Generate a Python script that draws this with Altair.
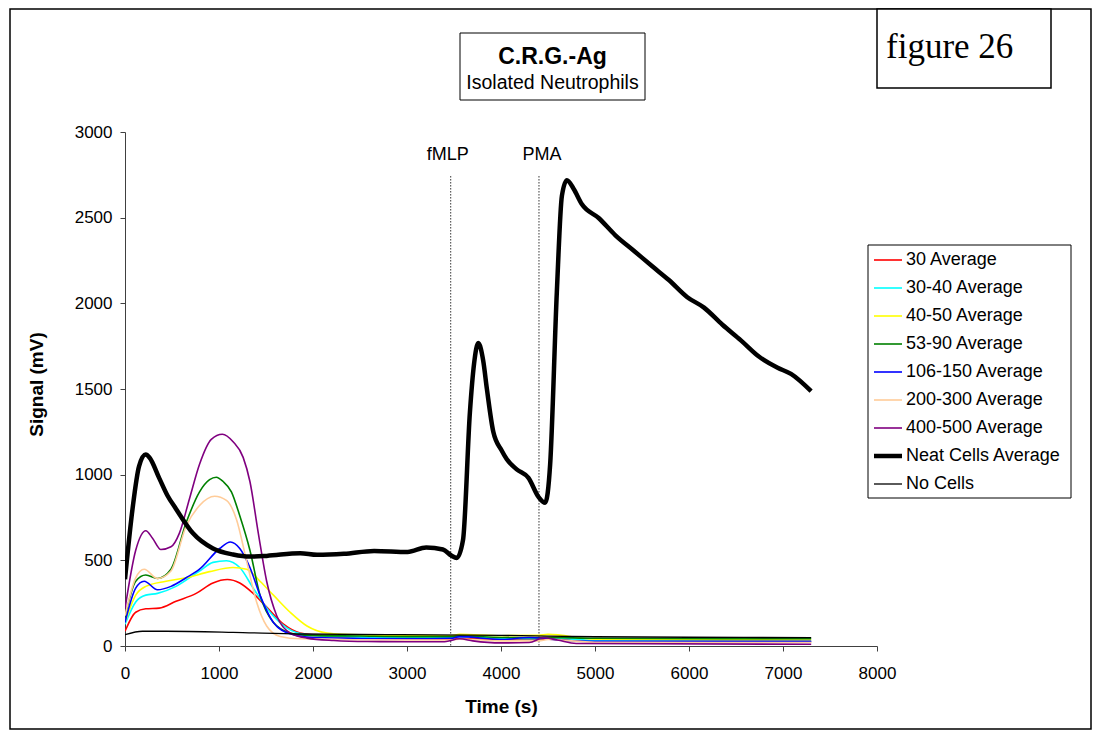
import altair as alt
import pandas as pd

SERIES = ["30 Average", "30-40 Average", "40-50 Average", "53-90 Average",
          "106-150 Average", "200-300 Average", "400-500 Average",
          "Neat Cells Average", "No Cells"]
COLORS = ["#FF0000", "#00FFFF", "#FFFF00", "#008000", "#0000FF",
          "#FFCC99", "#800080", "#000000", "#000000"]
WIDTHS = [1.6, 1.6, 1.6, 1.6, 1.6, 1.6, 1.6, 4.5, 1.3]

# --- series values (time s, signal mV) ---
t_30 = [0, 114, 221, 364, 543, 757, 936, 1089, 1221, 1364, 1507, 1686, 1864, 2221, 3000, 3470, 3560, 4000, 4400, 4500, 5000, 6000, 7300]
v_30 = [86, 197, 217, 221, 261, 307, 368, 388, 368, 307, 227, 127, 76, 56, 42, 40, 45, 38, 38, 42, 30, 27, 25]

t_3040 = [0, 114, 221, 346, 543, 793, 936, 1079, 1221, 1364, 1543, 1721, 1936, 2300, 3000, 3470, 3560, 4000, 4400, 4500, 5000, 7300]
v_3040 = [127, 257, 297, 307, 348, 438, 488, 498, 458, 338, 197, 106, 66, 55, 50, 48, 55, 45, 42, 48, 32, 28]

t_4050 = [0, 114, 221, 436, 650, 900, 1150, 1293, 1436, 1579, 1757, 1936, 2150, 2500, 3000, 3470, 3560, 4000, 4400, 4500, 5000, 7300]
v_4050 = [137, 297, 348, 378, 398, 434, 458, 448, 378, 297, 197, 117, 76, 65, 62, 60, 68, 60, 62, 68, 40, 35]

t_5390 = [0, 114, 221, 346, 489, 650, 793, 900, 971, 1043, 1132, 1221, 1329, 1436, 1579, 1757, 1936, 2500, 3000, 3470, 3560, 4000, 4400, 4500, 5000, 7300]
v_5390 = [167, 378, 414, 394, 448, 719, 900, 971, 985, 960, 900, 760, 559, 297, 137, 76, 62, 58, 55, 55, 58, 50, 48, 50, 45, 42]

t_106 = [0, 114, 204, 346, 489, 650, 793, 1007, 1121, 1221, 1329, 1436, 1579, 1757, 2000, 3000, 3470, 3560, 4000, 4300, 4450, 4600, 5000, 7300]
v_106 = [137, 338, 378, 328, 348, 398, 448, 569, 607, 569, 458, 297, 137, 72, 50, 42, 45, 55, 38, 50, 45, 35, 28, 27]

t_200 = [0, 114, 204, 346, 489, 650, 793, 954, 1079, 1186, 1293, 1400, 1507, 1650, 1864, 3000, 3470, 3560, 4000, 4400, 4500, 5000, 7300]
v_200 = [177, 398, 448, 394, 438, 699, 820, 874, 850, 739, 498, 257, 117, 56, 42, 35, 35, 40, 30, 30, 38, 22, 20]

t_400 = [0, 114, 221, 293, 382, 489, 579, 686, 793, 918, 1036, 1150, 1257, 1329, 1418, 1507, 1614, 1757, 1936, 2221, 2579, 3000, 3400, 3560, 3700, 4000, 4300, 4450, 4600, 4800, 7300]
v_400 = [217, 559, 673, 629, 563, 579, 659, 860, 1061, 1206, 1236, 1192, 1101, 960, 659, 378, 177, 76, 46, 32, 26, 25, 25, 42, 30, 18, 20, 48, 35, 15, 10]

t_neat = [0, 80, 150, 221, 260, 364, 450, 543, 721, 936, 1150, 1329, 1507, 1864, 2043, 2329, 2650, 3007, 3204, 3382, 3471, 3530, 3596, 3669, 3714, 3758, 3811, 3850, 3918, 4007, 4060, 4167, 4292, 4399, 4470, 4523, 4594, 4648, 4701, 4772, 4861, 5039, 5217, 5413, 5609, 5786, 5982, 6160, 6356, 6552, 6747, 6943, 7085, 7299]
v_neat = [390, 800, 1050, 1117, 1100, 980, 880, 800, 659, 569, 534, 522, 526, 542, 532, 538, 555, 549, 575, 563, 528, 514, 619, 1362, 1650, 1768, 1664, 1500, 1250, 1141, 1091, 1031, 981, 870, 836, 1061, 2066, 2628, 2719, 2669, 2578, 2498, 2397, 2307, 2216, 2136, 2036, 1975, 1875, 1784, 1688, 1624, 1588, 1487]

t_none = [0, 186, 436, 1150, 1864, 2936, 4007, 5000, 6000, 7300]
v_none = [66, 86, 86, 80, 70, 66, 62, 54, 51, 49]

EVENT_T = [3465, 4404]
EVENT_LABEL = ["fMLP", "PMA"]
EVENT_DX = [-3, 3]
EVENT_TOP = 2743
X_TICKS = [0, 1000, 2000, 3000, 4000, 5000, 6000, 7000, 8000]
Y_TICKS = [0, 500, 1000, 1500, 2000, 2500, 3000]

FONT = "Liberation Sans"
W, H = 752, 514

rows = []
for name, w, ts, vs in zip(SERIES, WIDTHS,
                           [t_30, t_3040, t_4050, t_5390, t_106, t_200, t_400, t_neat, t_none],
                           [v_30, v_3040, v_4050, v_5390, v_106, v_200, v_400, v_neat, v_none]):
    for t, v in zip(ts, vs):
        rows.append({"series": name, "w": w, "t": t, "v": v})
df = pd.DataFrame(rows)

xscale = alt.Scale(domain=[0, 8000], nice=False)
yscale = alt.Scale(domain=[0, 3000], nice=False)

width_expr = " : ".join(
    f"datum.value === '{s}' ? {w}" for s, w in zip(SERIES, WIDTHS)) + " : 1.6"

legend = alt.Legend(orient="none", legendX=754, legendY=119, padding=0,
                    symbolType="stroke", symbolSize=784, labelFontSize=18,
                    labelFont=FONT, labelColor="black", labelOffset=9,
                    rowPadding=10, title=None, labelLimit=400, strokeColor=None,
                    symbolStrokeWidth={"expr": width_expr})

lines = alt.Chart(df).mark_line(interpolate="monotone", clip=True).encode(
    x=alt.X("t:Q", scale=xscale,
            axis=alt.Axis(values=X_TICKS, format="d", title="Time (s)", grid=False,
                          tickSize=5, labelPadding=14, labelFontSize=17, labelFont=FONT,
                          labelColor="black", labelFlush=False,
                          titleFont=FONT, titleFontSize=19,
                          titleFontWeight="bold", titleColor="black",
                          titleX=W / 2, titleY=60, titleBaseline="middle",
                          domainColor="#404040", tickColor="#404040")),
    y=alt.Y("v:Q", scale=yscale,
            axis=alt.Axis(values=Y_TICKS, format="d", title="Signal (mV)", grid=False,
                          tickSize=5, labelPadding=8, labelFontSize=17, labelFont=FONT,
                          labelColor="black", labelFlush=False,
                          titleFont=FONT, titleFontSize=19,
                          titleFontWeight="bold", titleColor="black",
                          titleX=-89, titleY=H / 2 - 5, titleBaseline="middle",
                          domainColor="#404040", tickColor="#404040")),
    color=alt.Color("series:N", scale=alt.Scale(domain=SERIES, range=COLORS), legend=legend),
    strokeWidth=alt.StrokeWidth("w:Q", scale=None, legend=None),
    detail="series:N",
    order=alt.Order("t:Q"),
)

ev = pd.DataFrame({"t": EVENT_T, "label": EVENT_LABEL, "dx": EVENT_DX,
                   "top": [EVENT_TOP] * 2, "base": [0, 0]})
rules = alt.Chart(ev).mark_rule(color="#333333", strokeWidth=1, strokeDash=[1.5, 1.5]).encode(
    x=alt.X("t:Q", scale=xscale), y=alt.Y("top:Q", scale=yscale), y2="base:Q")
ev_text = alt.Chart(ev).transform_calculate(tx="datum.t + datum.dx * 8000 / 752").mark_text(
    font=FONT, fontSize=18, color="black", baseline="middle").encode(
    x=alt.X("tx:Q", scale=xscale), y=alt.value(155 - 132), text="label:N")

one = pd.DataFrame({"a": [0]})
# outer frame
frame = alt.Chart(one).mark_rect(fill=None, stroke="black", strokeWidth=1.5).encode(
    x=alt.value(-115), x2=alt.value(966), y=alt.value(-123), y2=alt.value(597))
# legend frame
leg_frame = alt.Chart(one).mark_rect(fill=None, stroke="black", strokeWidth=1).encode(
    x=alt.value(743), x2=alt.value(946), y=alt.value(113), y2=alt.value(366))
# title box
title_box = alt.Chart(one).mark_rect(fill="white", stroke="black", strokeWidth=1).encode(
    x=alt.value(335), x2=alt.value(520), y=alt.value(-99), y2=alt.value(-32))
title1 = alt.Chart(one).mark_text(font=FONT, fontSize=23, fontWeight="bold", color="black",
                                  baseline="middle").encode(
    x=alt.value(427.5), y=alt.value(-75), text=alt.value("C.R.G.-Ag"))
title2 = alt.Chart(one).mark_text(font=FONT, fontSize=19.5, color="black", baseline="middle").encode(
    x=alt.value(427.5), y=alt.value(-49), text=alt.value("Isolated Neutrophils"))
# figure label box
fig_box = alt.Chart(one).mark_rect(fill="white", stroke="black", strokeWidth=1.5).encode(
    x=alt.value(752), x2=alt.value(926), y=alt.value(-123), y2=alt.value(-44))
fig_text = alt.Chart(one).mark_text(font="Liberation Serif", fontSize=35, color="black",
                                    baseline="middle", align="left").encode(
    x=alt.value(761), y=alt.value(-85), text=alt.value("figure 26"))

chart = alt.layer(frame, title_box, title1, title2, fig_box, fig_text, leg_frame,
                  rules, ev_text, lines).properties(
    width=W, height=H,
    padding={"left": 117, "top": 124, "right": 1085 - 117 - W, "bottom": 731 - 124 - H},
    autosize=alt.AutoSizeParams(type="none"),
    background="white",
).configure_view(stroke=None)

chart.save("out.html", embed_options={"renderer": "svg", "actions": False})
